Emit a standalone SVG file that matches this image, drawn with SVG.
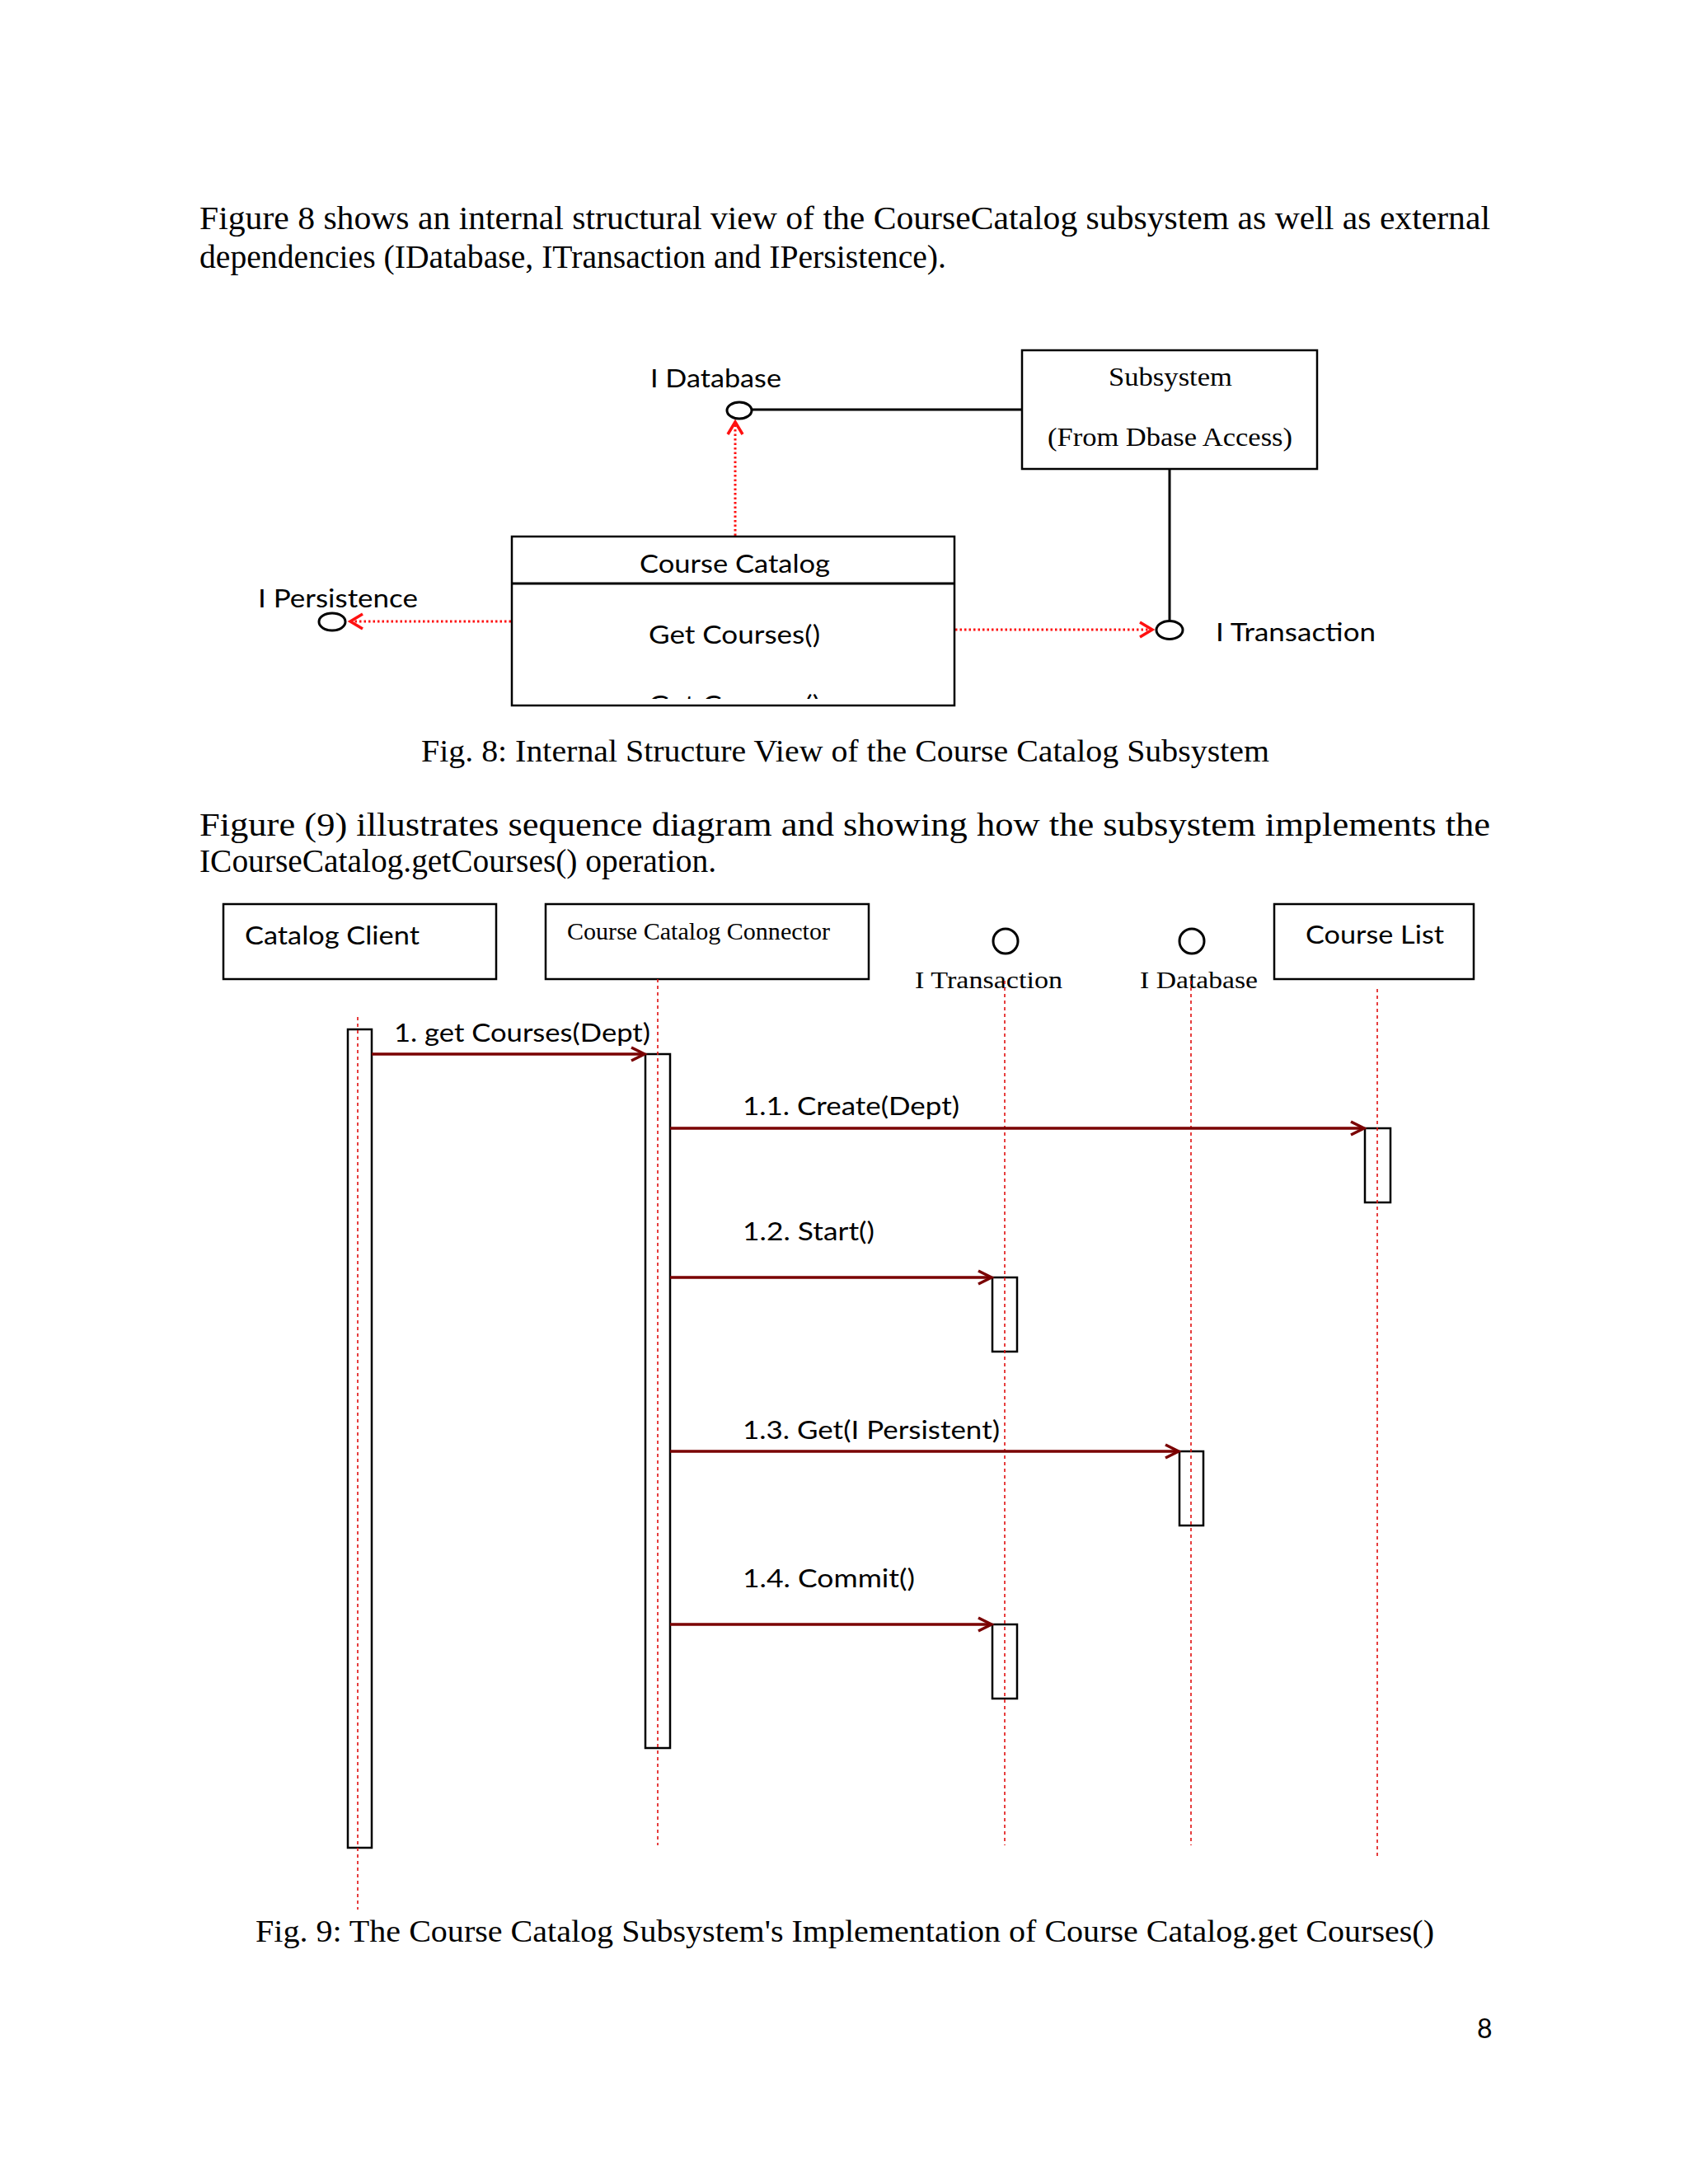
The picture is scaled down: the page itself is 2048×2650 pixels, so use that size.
<svg xmlns="http://www.w3.org/2000/svg" width="2048" height="2650" viewBox="0 0 2048 2650">
<style>
.serif{font-family:"Liberation Serif","Times New Roman",serif;fill:#000}
.sans{font-family:Lato,"Liberation Sans",sans-serif;fill:#000}
.box{fill:#fff;stroke:#000;stroke-width:2.5}
.iface{fill:#fff;stroke:#000;stroke-width:3}
.solid{stroke:#000;stroke-width:3;fill:none}
.dep{stroke:#ff1010;stroke-width:3;stroke-dasharray:2.5 3;fill:none}
.life{stroke:#e01010;stroke-width:1.6;stroke-dasharray:4 4;fill:none}
.msg{stroke:#7a0000;stroke-width:3.5;fill:none}
.act{fill:#fff;stroke:#000;stroke-width:2.5}
</style>
<defs>
<marker id="redOpen" viewBox="-20 -12 24 24" refX="0" refY="0" markerWidth="24" markerHeight="24" markerUnits="userSpaceOnUse" orient="auto">
<path d="M-15,-9 L0,0 L-15,9" fill="none" stroke="#ff1010" stroke-width="3.5"/>
</marker>
<marker id="msgOpen" viewBox="-22 -12 26 24" refX="0" refY="0" markerWidth="26" markerHeight="24" markerUnits="userSpaceOnUse" orient="auto">
<path d="M-16,-8 L0,0 L-16,8" fill="none" stroke="#7a0000" stroke-width="3.5"/>
</marker>
<clipPath id="ccClip"><rect x="621" y="707" width="537" height="141"/></clipPath>
</defs>
<rect width="2048" height="2650" fill="#fff"/>

<g id="para1">
<text class="serif" x="242" y="278" font-size="40" textLength="1566" lengthAdjust="spacingAndGlyphs">Figure 8 shows an internal structural view of the CourseCatalog subsystem as well as external</text>
<text class="serif" x="242" y="325" font-size="40" textLength="906" lengthAdjust="spacingAndGlyphs">dependencies (IDatabase, ITransaction and IPersistence).</text>
</g>

<g id="fig8-connectors">
<line class="solid" x1="912" y1="497" x2="1240" y2="497"/>
<line class="solid" x1="1419" y1="569" x2="1419" y2="754" stroke-width="2.5"/>
<line class="dep" x1="892" y1="650" x2="892" y2="512" stroke-dasharray="3 4" marker-end="url(#redOpen)"/>
<line class="dep" x1="620" y1="754" x2="425" y2="754" marker-end="url(#redOpen)"/>
<line class="dep" x1="1159" y1="764" x2="1398" y2="764" marker-end="url(#redOpen)"/>
</g>

<g id="idatabase8">
<ellipse class="iface" cx="897" cy="498" rx="15" ry="10"/>
<text class="sans" x="789" y="470" font-size="31" textLength="159" lengthAdjust="spacingAndGlyphs">I Database</text>
</g>
<g id="subsystem">
<rect class="box" x="1240" y="425" width="358" height="144"/>
<text class="serif" x="1345" y="468" font-size="31" textLength="150" lengthAdjust="spacingAndGlyphs">Subsystem</text>
<text class="serif" x="1271" y="541" font-size="31" textLength="297" lengthAdjust="spacingAndGlyphs">(From Dbase Access)</text>
</g>
<g id="coursecatalog">
<rect class="box" x="621" y="651" width="537" height="205"/>
<line class="solid" x1="621" y1="708" x2="1158" y2="708"/>
<text class="sans" x="776" y="695" font-size="31" textLength="231" lengthAdjust="spacingAndGlyphs">Course Catalog</text>
<text class="sans" x="787" y="781" font-size="31" textLength="208" lengthAdjust="spacingAndGlyphs">Get Courses()</text>
<text class="sans" x="787" y="866" font-size="31" textLength="208" lengthAdjust="spacingAndGlyphs" clip-path="url(#ccClip)">Get Courses()</text>
</g>
<g id="ipersistence8">
<ellipse class="iface" cx="403" cy="754.5" rx="16" ry="10.5"/>
<text class="sans" x="313" y="737" font-size="31" textLength="194" lengthAdjust="spacingAndGlyphs">I Persistence</text>
</g>
<g id="itransaction8">
<ellipse class="iface" cx="1419" cy="764.5" rx="16" ry="11"/>
<text class="sans" x="1475" y="778" font-size="31" textLength="194" lengthAdjust="spacingAndGlyphs">I Transaction</text>
</g>

<g id="caption8">
<text class="serif" x="511" y="924" font-size="38" textLength="1029" lengthAdjust="spacingAndGlyphs">Fig. 8: Internal Structure View of the Course Catalog Subsystem</text>
</g>

<g id="para2">
<text class="serif" x="242" y="1014" font-size="40" textLength="1566" lengthAdjust="spacingAndGlyphs">Figure (9) illustrates sequence diagram and showing how the subsystem implements the</text>
<text class="serif" x="242" y="1058" font-size="40" textLength="627" lengthAdjust="spacingAndGlyphs">ICourseCatalog.getCourses() operation.</text>
</g>

<g id="catalogclient">
<rect class="box" x="271" y="1097" width="331" height="91"/>
<text class="sans" x="297" y="1146" font-size="31" textLength="212" lengthAdjust="spacingAndGlyphs">Catalog Client</text>
<rect class="act" x="422" y="1249" width="29" height="993"/>
</g>
<g id="connector">
<rect class="box" x="662" y="1097" width="392" height="91"/>
<text class="serif" x="688" y="1140" font-size="29" textLength="319" lengthAdjust="spacingAndGlyphs">Course Catalog Connector</text>
<rect class="act" x="783" y="1279" width="30" height="842"/>
</g>
<g id="itransaction9">
<circle class="iface" cx="1220" cy="1142" r="15" stroke-width="2.5"/>
<text class="serif" x="1110" y="1199" font-size="30" textLength="179" lengthAdjust="spacingAndGlyphs">I Transaction</text>
<rect class="act" x="1204" y="1550" width="30" height="90"/>
<rect class="act" x="1204" y="1971" width="30" height="90"/>
</g>
<g id="idatabase9">
<circle class="iface" cx="1446" cy="1142" r="15" stroke-width="2.5"/>
<text class="serif" x="1383" y="1199" font-size="30" textLength="143" lengthAdjust="spacingAndGlyphs">I Database</text>
<rect class="act" x="1431" y="1761" width="29" height="90"/>
</g>
<g id="courselist">
<rect class="box" x="1546" y="1097" width="242" height="91"/>
<text class="sans" x="1584" y="1145" font-size="31" textLength="168" lengthAdjust="spacingAndGlyphs">Course List</text>
<rect class="act" x="1656" y="1369" width="31" height="90"/>
</g>

<g id="fig9-connectors">
<line class="life" x1="434" y1="1234" x2="434" y2="2317"/>
<line class="life" x1="798" y1="1188" x2="798" y2="2239"/>
<line class="life" x1="1219" y1="1190" x2="1219" y2="2239"/>
<line class="life" x1="1445" y1="1190" x2="1445" y2="2239"/>
<line class="life" x1="1671" y1="1200" x2="1671" y2="2252"/>
<line class="msg" x1="451" y1="1279" x2="782" y2="1279" marker-end="url(#msgOpen)"/>
<line class="msg" x1="813" y1="1369" x2="1655" y2="1369" marker-end="url(#msgOpen)"/>
<line class="msg" x1="813" y1="1550" x2="1203" y2="1550" marker-end="url(#msgOpen)"/>
<line class="msg" x1="813" y1="1761" x2="1430" y2="1761" marker-end="url(#msgOpen)"/>
<line class="msg" x1="813" y1="1971" x2="1203" y2="1971" marker-end="url(#msgOpen)"/>
<text class="sans" x="478" y="1264" font-size="31" textLength="311" lengthAdjust="spacingAndGlyphs">1. get Courses(Dept)</text>
<text class="sans" x="901" y="1353" font-size="31" textLength="263" lengthAdjust="spacingAndGlyphs">1.1. Create(Dept)</text>
<text class="sans" x="901" y="1505" font-size="31" textLength="160" lengthAdjust="spacingAndGlyphs">1.2. Start()</text>
<text class="sans" x="901" y="1746" font-size="31" textLength="312" lengthAdjust="spacingAndGlyphs">1.3. Get(I Persistent)</text>
<text class="sans" x="901" y="1926" font-size="31" textLength="209" lengthAdjust="spacingAndGlyphs">1.4. Commit()</text>
</g>

<g id="caption9">
<text class="serif" x="310" y="2356" font-size="38" textLength="1430" lengthAdjust="spacingAndGlyphs">Fig. 9: The Course Catalog Subsystem's Implementation of Course Catalog.get Courses()</text>
</g>
<g id="pagenum">
<text class="sans" x="1792" y="2473" font-size="32">8</text>
</g>
</svg>
